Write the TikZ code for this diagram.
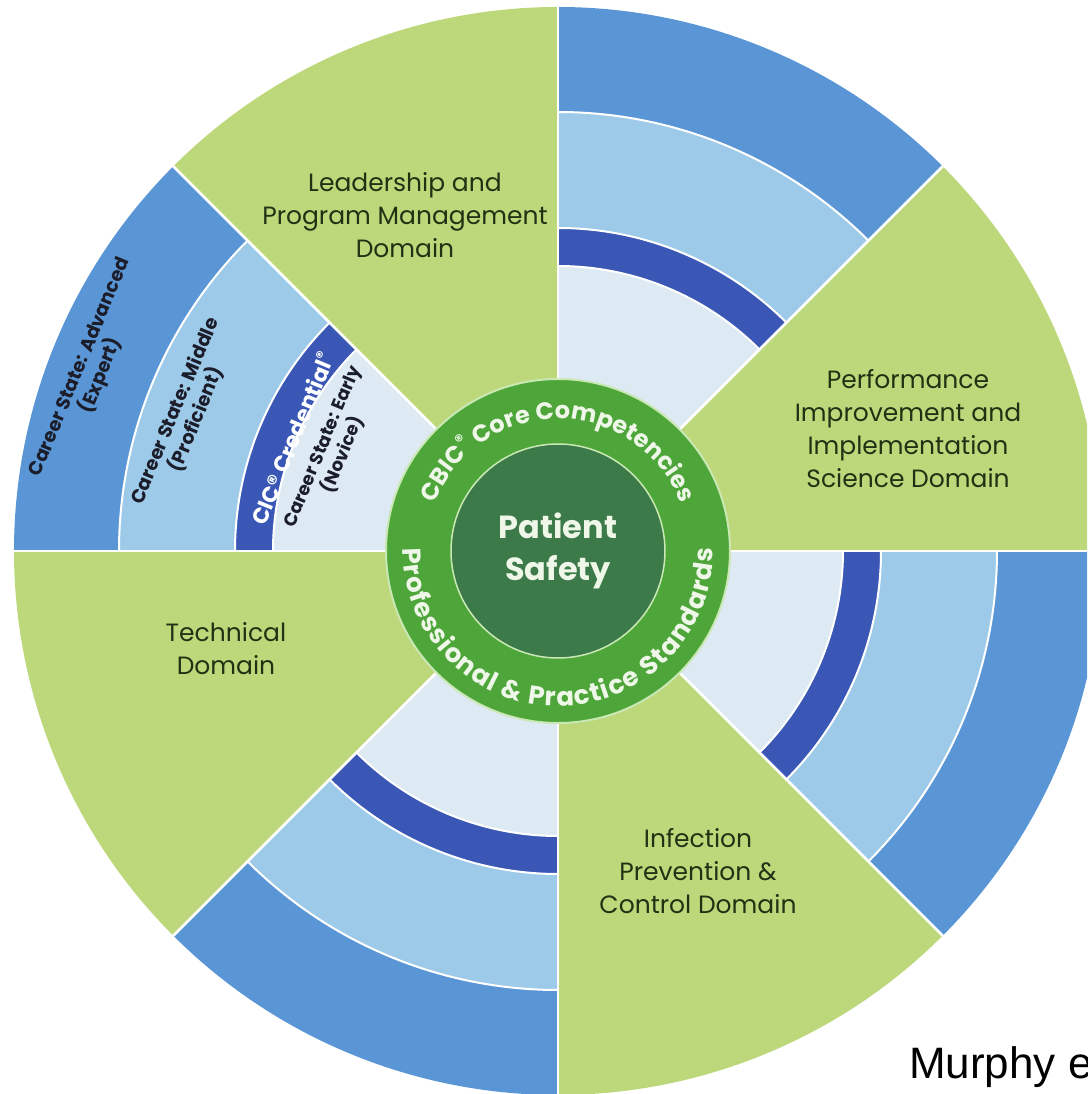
\documentclass[tikz,border=0pt]{standalone}
\usepackage{fontspec}
\setmainfont{Poppins}
\newfontfamily\notefont{Liberation Sans}

\definecolor{domaingreen}{HTML}{BDD87A}
\definecolor{domaintext}{HTML}{1F3314}
\definecolor{expertblue}{HTML}{5A96D6}
\definecolor{proficientblue}{HTML}{9ECAE9}
\definecolor{credentialblue}{HTML}{3A57B6}
\definecolor{noviceblue}{HTML}{DDEAF3}
\definecolor{careertext}{HTML}{1B1D2A}
\definecolor{ringgreen}{HTML}{4EA63A}
\definecolor{coregreen}{HTML}{3C7A49}
\definecolor{ringline}{HTML}{C9E8B4}
\definecolor{ringtext}{HTML}{EEF7E8}

\def\ringsize{24}
\newcommand\ringfont{\bfseries\fontsize{\ringsize}{\ringsize}\selectfont}

% letters set one by one round an arc
% #1 baseline radius (pt), #2 middle angle, #3 1 = tops outward / -1 = tops inward,
% #4 font size, #5 extra space per letter (pt), #6 node name prefix, #7 letters
\newlength\letterwd
\newcommand\measureletter[1]{%
  \begin{pgfinterruptpicture}\settowidth\letterwd{\ringfont#1}\global\letterwd=\letterwd\end{pgfinterruptpicture}}
\newcommand\arcletters[7]{%
  \gdef\ringsize{#4}%
  \gdef\arcsum{-#5}%
  \foreach \ch in {#7} {%
    \measureletter{\ch}%
    \pgfmathsetmacro\arctmp{\arcsum+\letterwd+#5}\global\let\arcsum\arctmp
  }%
  \pgfmathsetmacro\arcstart{#2+#3*\arcsum/#1*28.64789}%
  \gdef\arcpos{0}%
  \foreach \ch [count=\i] in {#7} {%
    \measureletter{\ch}%
    \pgfmathsetmacro\letterang{\arcstart-#3*(\arcpos+\letterwd/2)/#1*57.29578}%
    \node[anchor=base, inner sep=0pt, text=ringtext, font=\ringfont, rotate=\letterang-#3*90] (#6\i) at (\letterang:#1pt) {\ch};
    \pgfmathsetmacro\arctmp{\arcpos+\letterwd+#5}\global\let\arcpos\arctmp
  }%
}

\begin{document}
\begin{tikzpicture}[x=1pt, y=1pt,
    spoke/.style = {draw=white, line width=2.5pt},
    domainlbl/.style = {align=center, text=domaintext, font=\fontsize{25}{33}\selectfont},
    career/.style = {align=center, rotate=67.5, text=careertext, font=\bfseries\fontsize{19}{23}\selectfont}]

  \useasboundingbox (-558,-543) rectangle (529,551);
  \clip (-558,-543) rectangle (529,551);
  \fill[white] (-558,-543) rectangle (529,551);

  % green domain sectors
  \foreach \a in {0,90,180,270}
    \fill[domaingreen] (0,0) -- (\a:544pt) arc[start angle=\a, end angle=\a+45, radius=544pt] -- cycle;

  % blue career sectors, outer band first
  \foreach \a in {45,135,225,315} {
    \foreach \rad/\col in {544pt/expertblue, 439pt/proficientblue, 323pt/credentialblue, 285pt/noviceblue}
      \fill[\col] (0,0) -- (\a:\rad) arc[start angle=\a, end angle=\a+45, radius=\rad] -- cycle;
    \foreach \rad in {439pt,323pt,285pt}
      \draw[spoke, line width=2pt] (\a:\rad) arc[start angle=\a, end angle=\a+45, radius=\rad];
  }

  % spokes between sectors
  \foreach \a in {0,45,...,315}
    \draw[spoke] (0,0) -- (\a:544pt);

  % standards ring and core
  \node[circle, draw=ringline, line width=2pt, fill=ringgreen, minimum size=344pt] (ring) at (0,0) {};
  \node[circle, draw=ringline, line width=1.5pt, fill=coregreen, minimum size=214pt,
        align=center, text=ringtext, font=\bfseries\fontsize{32}{42}\selectfont] (core) at (0,0) {Patient\\Safety};

  \arcletters{132}{90}{1}{24}{0}{cbic}{C,B,I,C,{\textsuperscript{®}},{\ },C,o,r,e,{\ },C,o,m,p,e,t,e,n,c,i,e,s}
  \arcletters{155}{270}{-1}{26}{1.2}{std}{P,r,o,f,e,s,s,i,o,n,a,l,{\ },\&,{\ },P,r,a,c,t,i,c,e,{\ },S,t,a,n,d,a,r,d,s}

  % career states
  \node[career] (expert) at (159:500pt) {Career State: Advanced\\(Expert)};
  \node[career] (proficient) at (160:396pt) {Career State: Middle\\(Proficient)};
  \node[career, text=white, font=\bfseries\fontsize{22}{24}\selectfont] (credential) at (157:289pt) {CIC® Credential\textsuperscript{®}};
  \node[career, font=\bfseries\fontsize{18}{21}\selectfont] (novice) at (156:246pt) {Career State: Early\\(Novice)};

  % domains
  \node[domainlbl] (leadership) at (-153,336) {Leadership and\\Program Management\\Domain};
  \node[domainlbl] (performance) at (350,122) {Performance\\Improvement and\\Implementation\\Science Domain};
  \node[domainlbl] (technical) at (-332,-98) {Technical\\Domain};
  \node[domainlbl] (infection) at (140,-320) {Infection\\Prevention \&\\Control Domain};

  \node[anchor=base west, inner sep=0pt, font=\notefont\fontsize{44}{44}\selectfont] (source) at (351,-527) {Murphy e};
\end{tikzpicture}
\end{document}
